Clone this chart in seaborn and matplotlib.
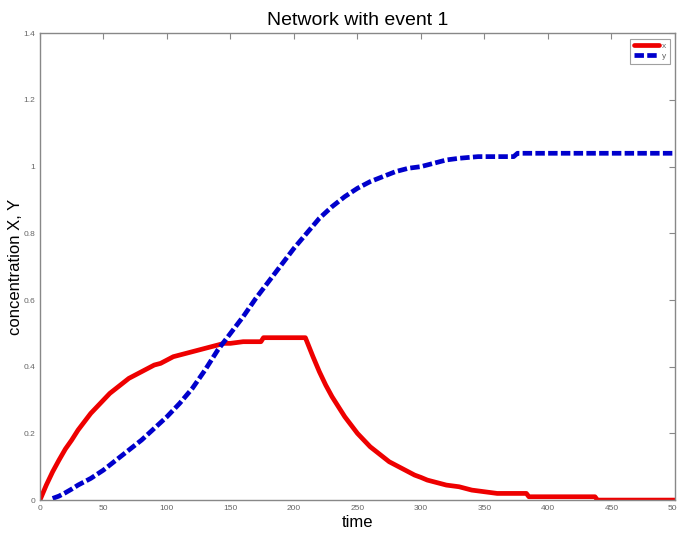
import numpy as np
import pandas as pd
import matplotlib
matplotlib.use("Agg")
import matplotlib.pyplot as plt
import seaborn as sns

# X concentration (red, solid)
x_time = [0, 5, 10, 15, 20, 25, 30, 35, 40, 45, 50, 55, 60, 65, 70, 75, 80, 85, 90, 95,
          100, 105, 110, 115, 120, 125, 130, 135, 140, 145, 150, 160, 174, 176,
          208, 209, 215, 220, 225, 230, 235, 240, 245, 250, 255, 260, 265, 270, 275, 280,
          285, 290, 295, 300, 305, 310, 315, 320, 330, 340, 350, 360, 383, 385, 437, 439, 500]
x_conc = [0.0, 0.045, 0.085, 0.12, 0.153, 0.18, 0.21, 0.235, 0.26, 0.28, 0.30, 0.32, 0.335, 0.35, 0.365, 0.375, 0.385, 0.395, 0.405, 0.41,
          0.42, 0.43, 0.435, 0.44, 0.445, 0.45, 0.455, 0.46, 0.465, 0.47, 0.47, 0.475, 0.475, 0.487,
          0.487, 0.487, 0.43, 0.385, 0.345, 0.31, 0.28, 0.25, 0.225, 0.20, 0.18, 0.16, 0.145, 0.13, 0.115, 0.105,
          0.095, 0.085, 0.075, 0.068, 0.06, 0.055, 0.05, 0.045, 0.04, 0.03, 0.025, 0.02, 0.02, 0.01, 0.01, 0.0, 0.0]

# Y concentration (blue, dashed)
y_time = [10, 15, 20, 25, 30, 40, 50, 60, 70, 80, 90, 100, 110, 120, 130, 140, 150, 160, 170, 180,
          190, 200, 210, 220, 230, 240, 250, 260, 270, 280, 290, 300, 310, 320, 330, 345, 373, 376, 500]
y_conc = [0.005, 0.012, 0.022, 0.033, 0.045, 0.065, 0.09, 0.12, 0.15, 0.18, 0.215, 0.25, 0.29, 0.335, 0.39, 0.45, 0.50, 0.55, 0.605, 0.655,
          0.705, 0.755, 0.80, 0.845, 0.88, 0.91, 0.935, 0.955, 0.97, 0.985, 0.995, 1.0, 1.01, 1.02, 1.025, 1.03, 1.03, 1.04, 1.04]

x_ticks = [0, 50, 100, 150, 200, 250, 300, 350, 400, 450, 500]
y_ticks = [0, 0.2, 0.4, 0.6, 0.8, 1, 1.2, 1.4]
y_tick_labels = ["0", "0.2", "0.4", "0.6", "0.8", "1", "1.2", "1.4"]

sns.set_style("white")
plt.rcParams['font.family'] = ['Liberation Sans', 'DejaVu Sans']

fig = plt.figure(figsize=(6.77, 5.36), dpi=100)
ax = fig.add_axes([0.059, 0.067, 0.938, 0.871])

dfx = pd.DataFrame({"time": x_time, "conc": x_conc})
dfy = pd.DataFrame({"time": y_time, "conc": y_conc})
sns.lineplot(data=dfx, x="time", y="conc", ax=ax, color="#ee0000", linewidth=3.4,
             label="x", estimator=None, sort=False)
sns.lineplot(data=dfy, x="time", y="conc", ax=ax, color="#0000cc", linewidth=3.4,
             label="y", estimator=None, sort=False)
ax.lines[1].set_dashes([2.0, 0.7])

ax.set_xlim(0, 500)
ax.set_ylim(0, 1.4)
ax.set_xticks(x_ticks)
ax.set_xticklabels([str(t) for t in x_ticks])
ax.set_yticks(y_ticks)
ax.set_yticklabels(y_tick_labels)
ax.tick_params(axis="both", direction="in", length=4, color="#888888", labelsize=6,
               labelcolor="#666666", top=True, right=True, width=0.8)
for s in ax.spines.values():
    s.set_color("#888888")
    s.set_linewidth(1.0)

ax.set_xlabel("time", fontsize=12, labelpad=2, color="black")
ax.set_ylabel("concentration X, Y", fontsize=12, color="black")
ax.yaxis.set_label_coords(-0.027, 0.5)
ax.set_title("Network with event 1", fontsize=14, pad=6, color="black")

leg = ax.legend(loc="upper right", fontsize=6, frameon=True, fancybox=False,
                handlelength=3, borderpad=0.4, labelspacing=0.3, handletextpad=0.4,
                bbox_to_anchor=(0.998, 0.997))
leg.get_frame().set_edgecolor("#888888")
leg.get_frame().set_linewidth(0.8)
for t in leg.get_texts():
    t.set_color("#666666")

fig.savefig("out.png", dpi=100)
